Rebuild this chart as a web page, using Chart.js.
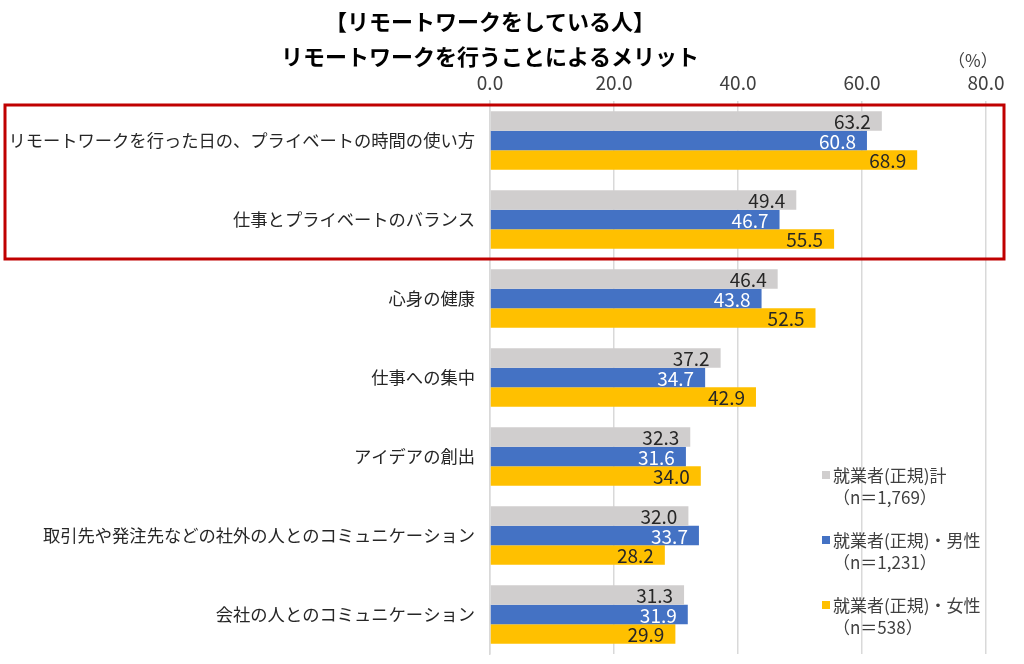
<!DOCTYPE html>
<html>
<head>
<meta charset="utf-8">
<script src="https://cdn.jsdelivr.net/npm/chart.js@4"></script>
<style>
  html, body { margin: 0; padding: 0; background: #fff; overflow: hidden; }
  #wrap { width: 1024px; height: 664px; }
</style>
</head>
<body>
<div id="wrap"><canvas id="meritChart"></canvas></div>
<script>
const categories = [
    "リモートワークを行った日の、プライベートの時間の使い方",
    "仕事とプライベートのバランス",
    "心身の健康",
    "仕事への集中",
    "アイデアの創出",
    "取引先や発注先などの社外の人とのコミュニケーション",
    "会社の人とのコミュニケーション"
];
const totalValues = [63.2, 49.4, 46.4, 37.2, 32.3, 32.0, 31.3];
const maleValues = [60.8, 46.7, 43.8, 34.7, 31.6, 33.7, 31.9];
const femaleValues = [68.9, 55.5, 52.5, 42.9, 34.0, 28.2, 29.9];
const seriesNames = ["就業者(正規)計", "就業者(正規)・男性", "就業者(正規)・女性"];
const sampleNotes = ["（n＝1,769）", "（n＝1,231）", "（n＝538）"];
const titleLines = ["【リモートワークをしている人】", "リモートワークを行うことによるメリット"];
const unitLabel = "（%）";

const FONT = "'Noto Sans CJK JP', 'Noto Sans', sans-serif";
const colors = ["#d0cece", "#4472c4", "#ffc000"];
const labelColors = ["#262626", "#ffffff", "#262626"];

// 値ラベル（バーの内側右端）
const valueLabels = {
    id: 'valueLabels',
    afterDatasetsDraw(chart) {
        const ctx = chart.ctx;
        ctx.save();
        ctx.font = "19px " + FONT;
        ctx.textAlign = 'right';
        ctx.textBaseline = 'middle';
        chart.data.datasets.forEach((ds, i) => {
            ctx.fillStyle = labelColors[i];
            chart.getDatasetMeta(i).data.forEach((bar, j) => {
                ctx.fillText(ds.data[j].toFixed(1), bar.x - 11, bar.y + 1);
            });
        });
        ctx.restore();
    }
};

// タイトル・凡例・単位・赤枠
const decorations = {
    id: 'decorations',
    afterDraw(chart) {
        const ctx = chart.ctx;
        const y = chart.scales.y;
        ctx.save();

        ctx.fillStyle = "#000";
        ctx.font = "bold 22px " + FONT;
        ctx.textAlign = 'center';
        ctx.textBaseline = 'middle';
        ctx.fillText(titleLines[0], 490, 22);
        ctx.fillText(titleLines[1], 490, 57);

        ctx.font = "17px " + FONT;
        ctx.fillStyle = "#404040";
        ctx.textAlign = 'left';
        ctx.fillText(unitLabel, 948, 61);

        // 凡例
        const rows = [475, 540, 605];
        seriesNames.forEach((name, i) => {
            ctx.fillStyle = colors[i];
            ctx.fillRect(822, rows[i] - 4, 8, 8);
            ctx.fillStyle = "#404040";
            ctx.fillText(name, 833, rows[i] + 1);
            ctx.fillText(sampleNotes[i], 833, rows[i] + 23);
        });

        // 赤枠（上位2項目）
        const band = y.getPixelForValue(1) - y.getPixelForValue(0);
        const top = y.getPixelForValue(0) - band / 2 + 4;
        const bottom = y.getPixelForValue(1) + band / 2;
        ctx.strokeStyle = "#c00000";
        ctx.lineWidth = 3;
        ctx.strokeRect(5, top, 999, bottom - top);
        ctx.restore();
    }
};

new Chart(document.getElementById("meritChart"), {
    type: 'bar',
    data: {
        labels: categories,
        datasets: [
            { label: seriesNames[0], data: totalValues, backgroundColor: colors[0] },
            { label: seriesNames[1], data: maleValues, backgroundColor: colors[1] },
            { label: seriesNames[2], data: femaleValues, backgroundColor: colors[2] }
        ]
    },
    options: {
        indexAxis: 'y',
        responsive: true,
        maintainAspectRatio: false,
        animation: false,
        categoryPercentage: 0.74,
        barPercentage: 1.0,
        layout: { padding: { top: 0, left: 0, right: 38, bottom: 10 } },
        plugins: {
            legend: { display: false },
            title: { display: false },
            tooltip: { enabled: false }
        },
        scales: {
            x: {
                position: 'top',
                min: 0,
                max: 80,
                ticks: {
                    stepSize: 20,
                    padding: 7,
                    color: "#404040",
                    font: { family: FONT, size: 19 },
                    callback: v => v.toFixed(1)
                },
                grid: { color: "#d9d9d9", lineWidth: 1.5, drawTicks: false },
                border: { display: false },
                afterFit: scale => {
                    scale.height = 101;
                    scale.paddingLeft = 0;
                    scale.paddingRight = 0;
                }
            },
            y: {
                ticks: {
                    padding: 15,
                    color: "#262626",
                    font: { family: FONT, size: 17.3 }
                },
                grid: { display: false, drawTicks: false },
                border: { display: true, color: "#d9d9d9", width: 1.5 },
                afterFit: scale => {
                    scale.width = 490;
                    scale.paddingTop = 0;
                    scale.paddingBottom = 0;
                }
            }
        }
    },
    plugins: [valueLabels, decorations]
});
</script>
</body>
</html>
